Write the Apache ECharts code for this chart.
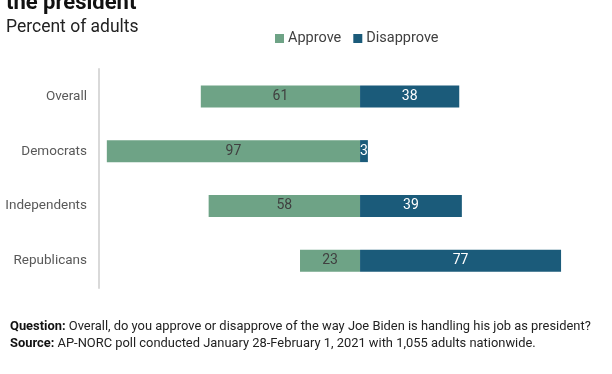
<!DOCTYPE html>
<html><head><meta charset="utf-8">
<script src="https://cdn.jsdelivr.net/npm/echarts@6/dist/echarts.min.js"></script>
<style>html,body{margin:0;padding:0;background:#fff}#c{width:612px;height:374px}</style>
</head><body><div id="c"></div>
<script>
const categories = ['Overall', 'Democrats', 'Independents', 'Republicans'];
const approve = [61, 97, 58, 23];
const disapprove = [38, 3, 39, 77];
const seriesNames = ['Approve', 'Disapprove'];
const colors = ['#6ea386', '#1b5b7a'];

const chart = echarts.init(document.getElementById('c'), null, {renderer: 'canvas'});
const F = 'Roboto';
chart.setOption({
  animation: false,
  textStyle: {fontFamily: F},
  legend: {
    data: seriesNames, left: 270, top: 26, itemWidth: 9, itemHeight: 9, itemGap: 12,
    icon: 'rect', textStyle: {fontSize: 14.5, color: '#404040', fontFamily: F, padding: [0,0,0,-1]}
  },
  graphic: [
    {type: 'text', left: 6, top: -8, style: {text: 'the president', font: 'bold 22px Roboto', fill: '#111'}},
    {type: 'text', left: 6, top: 19, style: {text: 'Percent of adults', font: '17.5px Roboto', fill: '#222'}},
    {type: 'text', left: 10, top: 319, style: {
      rich: {b: {fontWeight: 'bold', fontSize: 12.9, fontFamily: F, fill: '#111'}, n: {fontSize: 12.9, fontFamily: F, fill: '#222'}},
      text: '{b|Question:}{n| Overall, do you approve or disapprove of the way Joe Biden is handling his job as president?}\n{b|Source:}{n| AP-NORC poll conducted January 28-February 1, 2021 with 1,055 adults nationwide.}',
      lineHeight: 16.5, fill: '#222'
    }}
  ],
  grid: {left: 99, top: 69, width: 496, height: 219},
  xAxis: {type: 'value', min: -100, max: 90, show: false},
  yAxis: {
    type: 'category', data: categories, inverse: true,
    axisLine: {onZero: false, lineStyle: {color: '#d9d9d9', width: 2}},
    axisTick: {show: false},
    axisLabel: {fontSize: 13.5, color: '#595959', margin: 12, fontFamily: F}
  },
  series: [
    {
      name: seriesNames[0], type: 'bar', stack: 's', barWidth: 22,
      data: approve.map(v => -v), itemStyle: {color: colors[0]},
      label: {show: true, position: 'inside', formatter: p => Math.abs(p.value), color: '#404040', fontSize: 14, fontFamily: F, padding: [2,0,0,0]}
    },
    {
      name: seriesNames[1], type: 'bar', stack: 's', barWidth: 22,
      data: disapprove, itemStyle: {color: colors[1]},
      label: {show: true, position: 'inside', color: '#fff', fontSize: 14, fontFamily: F, padding: [2,0,0,0]}
    }
  ]
});
</script></body></html>
